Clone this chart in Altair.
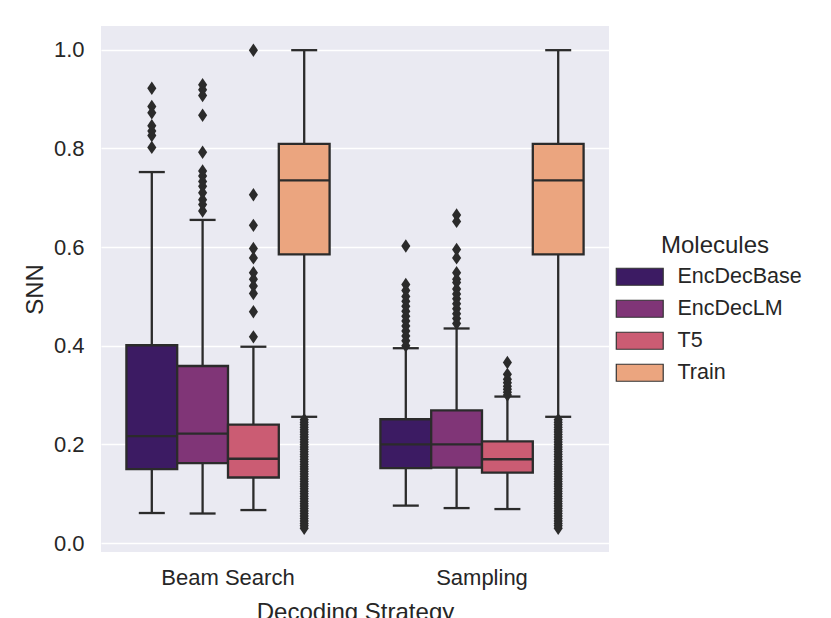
import altair as alt
import pandas as pd

strategies = ["Beam Search", "Sampling"]
molecules = ["EncDecBase", "EncDecLM", "T5", "Train"]
colors = ["#3c1b63", "#803577", "#cb5c73", "#eba57f"]
gray = "#2b2b2b"

box_strategy = ["Beam Search"] * 4 + ["Sampling"] * 4
box_molecule = molecules * 2
whisker_low = [0.061, 0.060, 0.067, 0.256, 0.076, 0.071, 0.069, 0.256]
q1 = [0.150, 0.162, 0.133, 0.585, 0.152, 0.153, 0.143, 0.585]
median = [0.217, 0.222, 0.171, 0.735, 0.200, 0.200, 0.170, 0.735]
q3 = [0.401, 0.359, 0.240, 0.809, 0.251, 0.269, 0.206, 0.809]
whisker_high = [0.752, 0.655, 0.398, 0.999, 0.395, 0.435, 0.297, 0.999]

train_outliers = [0.250, 0.245, 0.240, 0.235, 0.230, 0.225, 0.220, 0.215, 0.210,
                  0.205, 0.200, 0.195, 0.190, 0.185, 0.180, 0.175, 0.170, 0.165,
                  0.160, 0.155, 0.150, 0.145, 0.140, 0.135, 0.130, 0.125, 0.120,
                  0.115, 0.110, 0.105, 0.100, 0.095, 0.090, 0.085, 0.080, 0.075,
                  0.070, 0.065, 0.060, 0.055, 0.050, 0.045, 0.040, 0.035, 0.030]
outliers = {
    ("Beam Search", "EncDecBase"): [0.922, 0.885, 0.872, 0.846, 0.835, 0.826, 0.802],
    ("Beam Search", "EncDecLM"): [0.929, 0.919, 0.907, 0.867, 0.792, 0.754, 0.744,
                                  0.733, 0.723, 0.710, 0.696, 0.686, 0.673],
    ("Beam Search", "T5"): [0.999, 0.706, 0.644, 0.597, 0.578, 0.548, 0.535, 0.521,
                            0.506, 0.469, 0.418],
    ("Beam Search", "Train"): train_outliers,
    ("Sampling", "EncDecBase"): [0.602, 0.524, 0.512, 0.500, 0.490, 0.480, 0.470,
                                 0.460, 0.450, 0.440, 0.430, 0.420, 0.410, 0.400],
    ("Sampling", "EncDecLM"): [0.665, 0.652, 0.595, 0.578, 0.548, 0.535, 0.528,
                               0.515, 0.505, 0.495, 0.485, 0.475, 0.465, 0.455, 0.445],
    ("Sampling", "T5"): [0.366, 0.342, 0.332, 0.325, 0.318, 0.312, 0.306, 0.300],
    ("Sampling", "Train"): train_outliers,
}

boxes = pd.DataFrame({
    "strategy": box_strategy, "molecule": box_molecule,
    "lo": whisker_low, "q1": q1, "med": median, "q3": q3, "hi": whisker_high,
})
out_rows = []
for (s, m), vals in outliers.items():
    for v in vals:
        out_rows.append({"strategy": s, "molecule": m, "value": v})
outs = pd.DataFrame(out_rows)

FONT = "Liberation Sans"
TXT = "#262626"

x_enc = alt.X("strategy:N",
              scale=alt.Scale(domain=strategies, paddingInner=0, paddingOuter=0),
              axis=alt.Axis(title="Decoding Strategy", labelAngle=0, labelFontSize=22,
                            titleFontSize=24, labelPadding=15, titlePadding=12,
                            grid=False, ticks=False, domain=False))
xo_enc = alt.XOffset("molecule:N",
                     scale=alt.Scale(domain=molecules, paddingInner=0, paddingOuter=0.5))
y_scale = alt.Scale(domain=[-0.018, 1.048], nice=False, zero=False)
y_axis = alt.Axis(title="SNN", values=[0.0, 0.2, 0.4, 0.6, 0.8, 1.0], format=".1f",
                  labelFontSize=22, titleFontSize=24, labelPadding=17, titlePadding=6,
                  ticks=False, domain=False, grid=True, gridColor="white", gridWidth=1.6)

base = alt.Chart(boxes).encode(x=x_enc, xOffset=xo_enc)

low_whisker = base.mark_rule(color=gray, strokeWidth=2.3).encode(
    y=alt.Y("lo:Q", scale=y_scale, axis=y_axis), y2="q1:Q")
high_whisker = base.mark_rule(color=gray, strokeWidth=2.3).encode(
    y=alt.Y("q3:Q", scale=y_scale), y2="hi:Q")
box = base.mark_bar(stroke=gray, strokeWidth=2.3).encode(
    y=alt.Y("q1:Q", scale=y_scale), y2="q3:Q",
    color=alt.Color("molecule:N", scale=alt.Scale(domain=molecules, range=colors),
                    legend=alt.Legend(
                        title="Molecules", orient="none", legendX=528, legendY=208,
                        symbolType="M-2.76,-1L2.76,-1L2.76,1L-2.76,1Z",
                        symbolSize=289, symbolStrokeColor="#333333",
                        symbolStrokeWidth=1.2, symbolOpacity=1,
                        labelFontSize=21.5, titleFontSize=24, labelOffset=27,
                        rowPadding=9, titleAnchor="middle", titlePadding=8,
                        labelColor=TXT, titleColor=TXT, padding=0,
                        labelFont=FONT, titleFont=FONT,
                        titleFontWeight="normal")))
median_tick = base.mark_tick(color=gray, thickness=2.3, size=50, orient="horizontal",
                             opacity=1).encode(y=alt.Y("med:Q", scale=y_scale))
cap_low = base.mark_tick(color=gray, thickness=2.3, size=26, orient="horizontal",
                         opacity=1).encode(y=alt.Y("lo:Q", scale=y_scale))
cap_high = base.mark_tick(color=gray, thickness=2.3, size=26, orient="horizontal",
                          opacity=1).encode(y=alt.Y("hi:Q", scale=y_scale))
points = alt.Chart(outs).mark_point(
    shape="M0,-1L0.68,0L0,1L-0.68,0Z", size=180, filled=True, color=gray, opacity=1
).encode(x=x_enc, xOffset=xo_enc, y=alt.Y("value:Q", scale=y_scale))

chart = alt.layer(low_whisker, high_whisker, box, median_tick, cap_low, cap_high,
                  points).properties(
    width=508, height=526,
    padding={"left": 93, "top": 18, "right": 214, "bottom": 70},
    autosize=alt.AutoSizeParams(type="none"),
    background="white",
).configure(
    font=FONT
).configure_view(
    fill="#eaeaf2", stroke=None
).configure_axis(
    labelColor=TXT, titleColor=TXT, labelFont=FONT, titleFont=FONT,
    titleFontWeight="normal"
)

chart.save("out.html", embed_options={"renderer": "svg", "actions": False})
